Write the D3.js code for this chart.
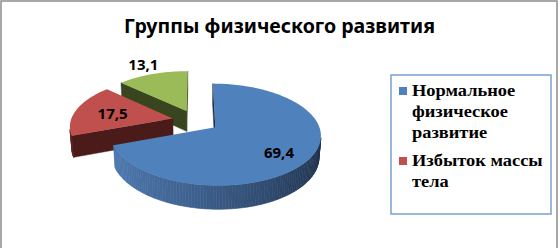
<!DOCTYPE html>
<html>
<head>
<meta charset="utf-8">
<script src="https://cdn.jsdelivr.net/npm/d3@7"></script>
<style>
  body { margin: 0; background: #fff; }
  svg { display: block; }
</style>
</head>
<body>
<svg id="chart" width="560" height="248"></svg>
<script>
//*************** data ******************//
var categories = ["Нормальное физическое развитие", "Избыток массы тела", "Дефицит массы тела"];
var values = [69.4, 17.5, 13.1];
var legendCount = 2; // the third entry does not fit in the legend box

//*************** layout / style ******************//
var topColor  = d3.scaleOrdinal().domain(categories).range(["#4f81bd", "#c0504d", "#9bbb59"]);
var sideLight = d3.scaleOrdinal().domain(categories).range(["#4e79b1", "#5a2320", "#415026"]);
var sideDark  = d3.scaleOrdinal().domain(categories).range(["#1c2e47", "#4a1b19", "#38451f"]);

// pick the first installed font of a list (canvas width test)
function pickFont(list, fallback) {
  var ctx = document.createElement("canvas").getContext("2d");
  var sample = "Нормальное физическое Wmli 0123";
  function w(f) { ctx.font = "bold 16px " + f; return ctx.measureText(sample).width; }
  var wm = w("monospace"), ws = w("sans-serif");
  for (var i = 0; i < list.length; i++) {
    var a = w("'" + list[i] + "', monospace"), b = w("'" + list[i] + "', sans-serif");
    if (a !== wm || b !== ws) return "'" + list[i] + "'";
  }
  return fallback;
}
var serifFont = pickFont(["Liberation Serif", "Times New Roman", "Tinos", "DejaVu Serif", "Noto Serif", "FreeSerif"], "serif");
var sansFont  = pickFont(["Noto Sans", "Open Sans", "Liberation Sans", "DejaVu Sans"], "sans-serif");

// camera for the 3d pie (unit radius)
var cam = {cx: 195.7, cy: 120.7, fx: 640, fy: 677, D: 6.27, phi: 26.4 * Math.PI / 180};
var explode = 0.23, thick = 0.22;
var labelR  = [0.69, 0.62, 1.31];
var labelDy = [4, 0, 0];

var fmt = d3.formatLocale({decimal: ",", thousands: " ", grouping: [3], currency: ["", ""]}).format(".1f");

var svg = d3.select("#chart");

// outer frame
svg.append("rect")
  .attr("x", 1).attr("y", 1).attr("width", 556).attr("height", 270)
  .attr("fill", "#fff").attr("stroke", "#8c8c8c").attr("stroke-width", 1.5);

// title
svg.append("text")
  .attr("x", 279.5).attr("y", 33)
  .attr("text-anchor", "middle")
  .style("font-family", sansFont).style("font-weight", "bold").style("font-size", "19px")
  .attr("textLength", 311).attr("lengthAdjust", "spacingAndGlyphs")
  .attr("fill", "#000")
  .text("Группы физического развития");

//*************** 3d pie ******************//
var sinP = Math.sin(cam.phi), cosP = Math.cos(cam.phi);
var camPos = [0, cam.D * sinP, -cam.D * cosP];

function proj(p) {
  var X = p[0], Y = p[1], Z = p[2];
  var yv = Y * cosP + Z * sinP;
  var depth = cam.D + Z * cosP - Y * sinP;
  return [cam.cx + cam.fx * X / depth, cam.cy - cam.fy * yv / depth];
}
function facing(normal, point) {
  var v = [camPos[0] - point[0], camPos[1] - point[1], camPos[2] - point[2]];
  return normal[0] * v[0] + normal[1] * v[1] + normal[2] * v[2] > 0;
}
var poly = d3.line();

var arcs = d3.pie().sort(null).value(function(d) { return d; })(values);

var slices = arcs.map(function(a, i) {
  var mid = (a.startAngle + a.endAngle) / 2;
  return {
    i: i, cat: categories[i], a0: a.startAngle, a1: a.endAngle, mid: mid,
    ox: explode * Math.sin(mid), oz: explode * Math.cos(mid)
  };
});

// draw back slices first
var order = slices.slice().sort(function(a, b) { return b.oz - a.oz; });
var g = svg.append("g").attr("class", "pie");

order.forEach(function(s) {
  var sg = g.append("g").attr("class", "slice");
  function pt(th, y) { return [s.ox + Math.sin(th), y, s.oz + Math.cos(th)]; }
  var c0 = [s.ox, 0, s.oz], c1 = [s.ox, -thick, s.oz];

  // radial faces
  [[s.a0, -1], [s.a1, 1]].forEach(function(f) {
    var th = f[0], sg2 = f[1];
    var n = [sg2 * Math.cos(th), 0, -sg2 * Math.sin(th)];
    if (!facing(n, c0)) return;
    var pts = [c0, pt(th, 0), pt(th, -thick), c1].map(proj);
    sg.append("path")
      .attr("d", poly(pts) + "Z")
      .attr("fill", sideDark(s.cat))
      .attr("stroke", sideDark(s.cat)).attr("stroke-width", 0.5);
  });

  // outer wall
  var n = Math.max(2, Math.ceil((s.a1 - s.a0) / (Math.PI / 120)));
  var step = (s.a1 - s.a0) / n;
  var shade = d3.interpolateRgb(sideDark(s.cat), sideLight(s.cat));
  for (var k = 0; k < n; k++) {
    var t0 = s.a0 + k * step, t1 = t0 + step, tm = t0 + step / 2;
    var nn = [Math.sin(tm), 0, Math.cos(tm)];
    if (!facing(nn, pt(tm, 0))) continue;
    var pts = [pt(t0, 0), pt(t1, 0), pt(t1, -thick), pt(t0, -thick)].map(proj);
    var col = shade(Math.pow((1 - Math.sin(tm)) / 2, 0.8));
    sg.append("path")
      .attr("d", poly(pts) + "Z")
      .attr("fill", col).attr("stroke", col).attr("stroke-width", 0.6);
  }

  // top face
  var tp = [proj(c0)];
  for (var k = 0; k <= n; k++) tp.push(proj(pt(s.a0 + k * step, 0)));
  sg.append("path")
    .attr("d", poly(tp) + "Z")
    .attr("fill", topColor(s.cat));
});

// data labels
slices.forEach(function(s) {
  var r = labelR[s.i];
  var p = proj([s.ox + r * Math.sin(s.mid), 0, s.oz + r * Math.cos(s.mid)]);
  svg.append("text")
    .attr("x", p[0]).attr("y", p[1] + labelDy[s.i])
    .attr("text-anchor", "middle")
    .attr("dominant-baseline", "central")
    .style("font-family", sansFont).style("font-weight", "bold").style("font-size", "15px")
    .attr("fill", "#000")
    .text(fmt(values[s.i]));
});

//*************** legend ******************//
var legend = svg.append("g").attr("class", "legend");
legend.append("rect")
  .attr("x", 391).attr("y", 75).attr("width", 160).attr("height", 139)
  .attr("fill", "#fff").attr("stroke", "#7aa0d4").attr("stroke-width", 1.5);

var legendText = legend.append("g")
  .style("font-family", serifFont).style("font-weight", "bold").style("font-size", "16px")
  .attr("fill", "#000");

var lineH = 21, entryGap = 7, maxW = 138, textX = 412, stretch = 1.15;
var y = 96;
categories.slice(0, legendCount).forEach(function(cat) {
  legend.append("rect")
    .attr("x", 399).attr("y", y - 9).attr("width", 8).attr("height", 8)
    .attr("fill", topColor(cat));
  // simple word wrap
  var words = cat.split(" "), line = [], lines = [];
  var probe = legendText.append("text");
  words.forEach(function(w) {
    var test = line.concat([w]).join(" ");
    probe.text(test);
    if (line.length && probe.node().getComputedTextLength() * stretch > maxW) {
      lines.push(line.join(" "));
      line = [w];
    } else line.push(w);
  });
  lines.push(line.join(" "));
  probe.remove();
  lines.forEach(function(l, j) {
    legendText.append("text")
      .attr("transform", "translate(" + textX + "," + (y + j * lineH) + ") scale(" + stretch + ",1)")
      .text(l);
  });
  y += lines.length * lineH + entryGap;
});
</script>
</body>
</html>
